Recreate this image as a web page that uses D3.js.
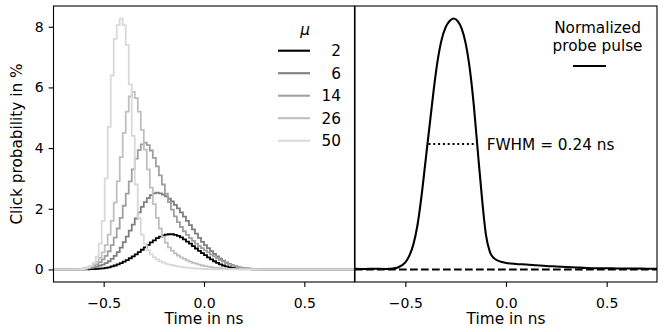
<!DOCTYPE html>
<html><head><meta charset="utf-8">
<script src="https://cdn.jsdelivr.net/npm/d3@7"></script>
<style>body{margin:0;background:#fff}svg{display:block;font-family:"DejaVu Sans",sans-serif}</style>
</head><body><svg id="c" width="664" height="332"></svg>
<script>
// ---------- data ----------
const binStart = -0.63;          // left edge of first histogram bin (ns)
const binWidth = 0.015;          // bin width (ns)
const muValues = [2, 6, 14, 26, 50];
const click2 = [0,0,0.003,0.005,0.008,0.012,0.018,0.025,0.035,0.05,
  0.07,0.1,0.13,0.17,0.21,0.26,0.31,0.37,0.43,0.5,
  0.57,0.65,0.73,0.81,0.89,0.96,1.03,1.08,1.12,1.15,
  1.16,1.16,1.14,1.11,1.06,0.99,0.92,0.85,0.77,0.69,
  0.61,0.54,0.47,0.4,0.33,0.27,0.22,0.17,0.13,0.1,
  0.075,0.055,0.04,0.03,0.022,0.016,0.011,0.008,0.006,0.004,
  0.003,0.002,0.002,0.001,0.001,0];
const click6 = [0.005,0.01,0.02,0.035,0.05,0.07,0.095,0.125,0.16,0.21,
  0.27,0.35,0.45,0.57,0.72,0.9,1.08,1.28,1.48,1.68,
  1.88,2.06,2.22,2.35,2.45,2.51,2.53,2.51,2.47,2.41,
  2.33,2.24,2.13,2.01,1.88,1.74,1.6,1.46,1.32,1.18,
  1.04,0.91,0.8,0.7,0.6,0.51,0.43,0.36,0.29,0.23,
  0.18,0.14,0.11,0.08,0.06,0.045,0.034,0.025,0.018,0.013,
  0.009,0.007,0.005,0.003,0.002,0.001];
const click14 = [0.01,0.02,0.035,0.055,0.08,0.12,0.17,0.24,0.33,0.45,
  0.6,0.8,1.05,1.35,1.7,2.1,2.5,2.9,3.3,3.65,
  3.93,4.12,4.18,4.1,3.92,3.68,3.4,3.1,2.8,2.5,
  2.22,1.97,1.75,1.56,1.4,1.26,1.14,1.03,0.94,0.85,
  0.77,0.7,0.63,0.56,0.49,0.43,0.37,0.31,0.26,0.21,
  0.17,0.13,0.1,0.075,0.055,0.04,0.03,0.022,0.016,0.011,
  0.008,0.006,0.004,0.003,0.002,0.001];
const click26 = [0.01,0.02,0.04,0.07,0.11,0.17,0.26,0.38,0.56,0.8,
  1.15,1.6,2.2,2.9,3.7,4.5,5.2,5.7,5.85,5.65,
  5.2,4.6,3.95,3.3,2.7,2.15,1.7,1.35,1.08,0.88,
  0.73,0.62,0.53,0.46,0.4,0.35,0.3,0.26,0.22,0.19,
  0.16,0.13,0.11,0.09,0.075,0.06,0.05,0.04,0.03,0.025,
  0.02,0.015,0.012,0.009,0.007,0.005,0.004,0.003,0.002,0.002,
  0.001,0.001,0,0,0,0];
const click50 = [0.005,0.01,0.03,0.06,0.12,0.22,0.42,0.85,1.6,3.0,
  4.7,6.4,7.6,8.05,8.27,8.05,7.4,6.1,4.4,2.8,
  1.7,1.15,0.85,0.64,0.5,0.4,0.33,0.27,0.23,0.19,
  0.16,0.14,0.12,0.1,0.085,0.07,0.06,0.05,0.04,0.032,
  0.025,0.02,0.015,0.012,0.009,0.007,0.005,0.004,0.003,0.002,
  0.002,0.001,0,0,0,0,0,0,0,0,
  0,0,0,0,0,0];
const clickSeries = [click2, click6, click14, click26, click50];

const pulseTime = [-0.75,-0.70,-0.65,-0.60,-0.56,-0.54,-0.52,-0.50,-0.48,-0.46,-0.44,-0.42,-0.40,-0.38,-0.36,-0.34,-0.32,-0.30,-0.28,-0.26,-0.24,-0.22,-0.20,-0.18,-0.16,-0.14,-0.12,-0.10,-0.08,-0.06,-0.04,-0.02,0.00,0.05,0.10,0.15,0.20,0.25,0.30,0.35,0.40,0.45,0.50,0.55,0.60,0.65,0.70,0.75];
const pulseValue = [0.003,0.002,0.003,0.002,0.004,0.007,0.015,0.028,0.055,0.1,0.175,0.29,0.43,0.57,0.71,0.83,0.915,0.965,0.99,1.0,0.99,0.96,0.9,0.8,0.655,0.47,0.29,0.14,0.07,0.045,0.035,0.03,0.026,0.022,0.02,0.017,0.014,0.012,0.01,0.008,0.006,0.005,0.005,0.004,0.004,0.004,0.003,0.003];
const fwhmStart = -0.385, fwhmEnd = -0.16, fwhmLevel = 0.5;
const fwhmLabel = "FWHM = 0.24 ns";
const xTicks = [-0.5, 0, 0.5];
const yTicks = [0, 2, 4, 6, 8];
const xDomain = [-0.75, 0.75];

// ---------- styles ----------
const seriesColors = ["#000000", "#7f7f7f", "#a0a0a0", "#bfbfbf", "#d9d9d9"];
const svg = d3.select("#c");
const TOP = 6, BOT = 282;
const labelFont = 15.3, tickFont = 14;

const xL = d3.scaleLinear().domain(xDomain).range([53.5, 354.5]);
const xR = d3.scaleLinear().domain(xDomain).range([355, 657]);
const maxClick = d3.max(clickSeries, s => d3.max(s));
const yL = d3.scaleLinear().domain([-0.05 * maxClick, 1.05 * maxClick]).range([BOT, TOP]);
const yR = d3.scaleLinear().domain([-0.05, 1.05]).range([BOT, TOP]);

const defs = svg.append("defs");
defs.append("clipPath").attr("id", "clipL").append("rect").attr("x", 53.5).attr("y", TOP).attr("width", 301).attr("height", BOT - TOP);
defs.append("clipPath").attr("id", "clipR").append("rect").attr("x", 355).attr("y", TOP).attr("width", 302).attr("height", BOT - TOP);

// ---------- left panel ----------
const gL = svg.append("g").attr("clip-path", "url(#clipL)");
const stepLine = d3.line().x(d => xL(d[0])).y(d => yL(d[1])).curve(d3.curveStepAfter);
clickSeries.forEach((s, k) => {
  const pts = [[xDomain[0], 0]];
  s.forEach((v, i) => pts.push([binStart + i * binWidth, v]));
  pts.push([binStart + s.length * binWidth, 0]);
  pts.push([xDomain[1], 0]);
  gL.append("path").attr("d", stepLine(pts)).attr("fill", "none")
    .attr("stroke", seriesColors[k]).attr("stroke-width", 1.8).attr("stroke-linejoin", "miter");
});

// ---------- right panel ----------
const gR = svg.append("g").attr("clip-path", "url(#clipR)");
gR.append("line").attr("x1", xR(xDomain[0])).attr("x2", xR(xDomain[1]))
  .attr("y1", yR(0)).attr("y2", yR(0)).attr("stroke", "#000").attr("stroke-width", 2)
  .attr("stroke-dasharray", "7.7,3.3");
const pulseLine = d3.line().x((d, i) => xR(pulseTime[i])).y(d => yR(d)).curve(d3.curveMonotoneX);
gR.append("path").attr("d", pulseLine(pulseValue)).attr("fill", "none").attr("stroke", "#000").attr("stroke-width", 2.1);
gR.append("line").attr("x1", xR(fwhmStart)).attr("x2", xR(fwhmEnd))
  .attr("y1", yR(fwhmLevel)).attr("y2", yR(fwhmLevel)).attr("stroke", "#000").attr("stroke-width", 2)
  .attr("stroke-dasharray", "2,2.8");
svg.append("text").attr("x", 486.7).attr("y", yR(fwhmLevel) + 5.5).attr("font-size", labelFont).text(fwhmLabel);

// ---------- axes ----------
function styleAxis(g) {
  g.select(".domain").remove();
  g.selectAll("line").attr("stroke", "#000").attr("stroke-width", 1.1);
  g.selectAll("text").attr("font-size", tickFont).attr("font-family", "DejaVu Sans").attr("fill", "#000");
}
const fmt = d3.format(".1f");
[xL, xR].forEach(x => {
  const g = svg.append("g").attr("transform", `translate(0,${BOT})`)
    .call(d3.axisBottom(x).tickValues(xTicks).tickFormat(fmt).tickSize(4.9).tickPadding(4.9).tickSizeOuter(0));
  styleAxis(g);
  g.selectAll("text").attr("y", 26).attr("dy", null);
});
const gy = svg.append("g").attr("transform", "translate(53.5,0)")
  .call(d3.axisLeft(yL).tickValues(yTicks).tickFormat(d3.format("d")).tickSize(4.9).tickPadding(4.9).tickSizeOuter(0));
styleAxis(gy);

// frames
svg.append("rect").attr("x", 53.5).attr("y", TOP).attr("width", 301).attr("height", BOT - TOP)
  .attr("fill", "none").attr("stroke", "#000").attr("stroke-width", 1.1);
svg.append("rect").attr("x", 355).attr("y", TOP).attr("width", 302).attr("height", BOT - TOP)
  .attr("fill", "none").attr("stroke", "#000").attr("stroke-width", 1.1);

// axis labels
svg.append("text").attr("x", (xL.range()[0] + xL.range()[1]) / 2).attr("y", 324)
  .attr("text-anchor", "middle").attr("font-size", labelFont).text("Time in ns");
svg.append("text").attr("x", (xR.range()[0] + xR.range()[1]) / 2).attr("y", 324)
  .attr("text-anchor", "middle").attr("font-size", labelFont).text("Time in ns");
svg.append("text").attr("transform", "translate(21.5,144) rotate(-90)")
  .attr("text-anchor", "middle").attr("font-size", labelFont).text("Click probability in %");

// ---------- legends ----------
svg.append("text").attr("x", 305).attr("y", 35).attr("text-anchor", "middle")
  .attr("font-size", labelFont).attr("font-style", "italic").text("μ");
muValues.forEach((m, k) => {
  const yy = 50.7 + k * 22.5;
  svg.append("line").attr("x1", 278).attr("x2", 310).attr("y1", yy).attr("y2", yy)
    .attr("stroke", seriesColors[k]).attr("stroke-width", 2.1);
  svg.append("text").attr("x", 341).attr("y", yy + 5.5).attr("text-anchor", "end")
    .attr("font-size", labelFont).text(m);
});
svg.append("text").attr("x", 597.5).attr("y", 33).attr("text-anchor", "middle").attr("font-size", labelFont).text("Normalized");
svg.append("text").attr("x", 597.5).attr("y", 50.5).attr("text-anchor", "middle").attr("font-size", labelFont).text("probe pulse");
svg.append("line").attr("x1", 573).attr("x2", 606).attr("y1", 66).attr("y2", 66).attr("stroke", "#000").attr("stroke-width", 2.1);
</script></body></html>
